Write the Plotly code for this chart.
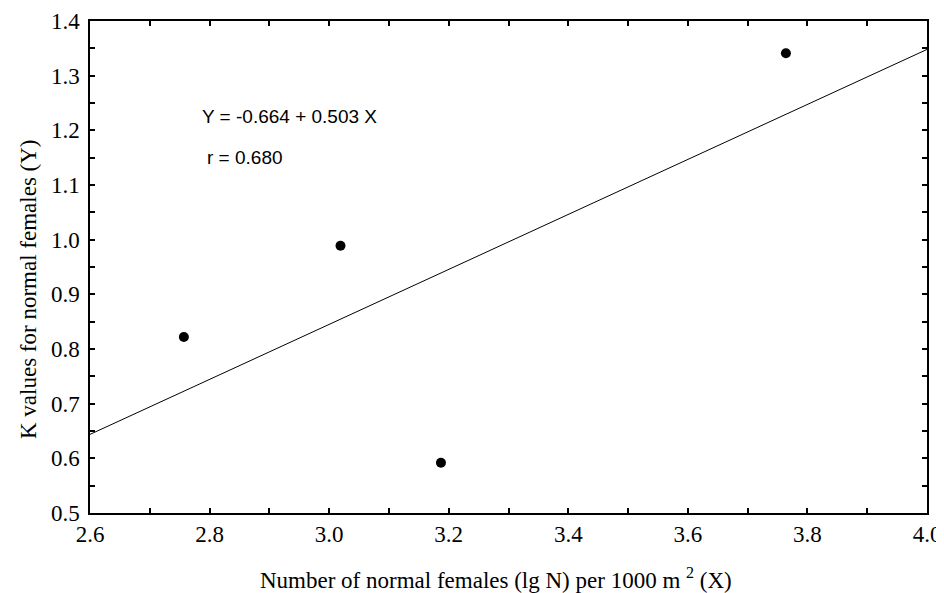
import plotly.graph_objects as go

# Data
x_vals = [2.757, 3.019, 3.187, 3.764]
y_vals = [0.822, 0.989, 0.592, 1.341]
intercept = -0.664
slope = 0.503
r_value = 0.680
x_line = [2.6, 4.0]
y_line = [intercept + slope * x for x in x_line]
x_title = "Number of normal females (lg N) per 1000 m <sup>2</sup> (X)"
y_title = "K values for normal females (Y)"

sans = "Liberation Sans, Arial, sans-serif"
serif = "Liberation Serif, Times New Roman, serif"

# page body adds an 8px offset
OFF = 8
W, H = 944, 593
L, T = 90 - OFF, 21 - OFF
pw, ph = 837, 492
R, B = W - L - pw, H - T - ph


def px_to_paper(sx, sy):
    fx, fy = sx - OFF, sy - OFF
    return (fx - L) / pw, 1 - (fy - T) / ph


fig = go.Figure()
fig.add_trace(go.Scatter(x=x_line, y=y_line, mode="lines",
                         line=dict(color="black", width=1), showlegend=False, hoverinfo="skip"))
fig.add_trace(go.Scatter(x=x_vals, y=y_vals, mode="markers",
                         marker=dict(color="black", size=10), showlegend=False))

fig.add_annotation(x=2.784, y=1.226, xref="x", yref="y", xanchor="left", yanchor="middle",
                   text=f"Y = {intercept:.3f} + {slope:.3f} X", showarrow=False,
                   font=dict(family=sans, size=19, color="black"))
fig.add_annotation(x=2.792, y=1.150, xref="x", yref="y", xanchor="left", yanchor="middle",
                   text=f"r = {r_value:.3f}", showarrow=False,
                   font=dict(family=sans, size=19, color="black"))

xt_x, xt_y = px_to_paper(496, 578)
yt_x, yt_y = px_to_paper(28, 289)
fig.add_annotation(x=xt_x, y=xt_y, xref="paper", yref="paper", text=x_title, showarrow=False,
                   xanchor="center", yanchor="middle",
                   font=dict(family=serif, size=23, color="black"))
fig.add_annotation(x=yt_x, y=yt_y, xref="paper", yref="paper", text=y_title, showarrow=False,
                   xanchor="center", yanchor="middle", textangle=-90,
                   font=dict(family=serif, size=23, color="black"))

fig.update_layout(
    width=W, height=H,
    margin=dict(l=L, r=R, t=T, b=B),
    paper_bgcolor="white", plot_bgcolor="white",
    font=dict(family=serif, size=23, color="black"),
    xaxis=dict(range=[2.6, 4.0], tick0=2.6, dtick=0.2, tickformat=".1f",
               ticks="inside", ticklen=5, tickwidth=1.5, tickcolor="black",
               minor=dict(dtick=0.1, ticks="inside", ticklen=5, tickwidth=1.5, tickcolor="black"),
               showline=True, linecolor="black", linewidth=1.5, mirror="ticks",
               showgrid=False, zeroline=False, automargin=False,
               tickfont=dict(family=serif, size=23)),
    yaxis=dict(range=[0.5, 1.4], tick0=0.5, dtick=0.1, tickformat=".1f",
               ticks="inside", ticklen=5, tickwidth=1.5, tickcolor="black",
               minor=dict(dtick=0.05, ticks="inside", ticklen=5, tickwidth=1.5, tickcolor="black"),
               showline=True, linecolor="black", linewidth=1.5, mirror="ticks",
               showgrid=False, zeroline=False, automargin=False, ticklabelstandoff=4,
               tickfont=dict(family=serif, size=23)),
)

fig.write_html("out.html")
